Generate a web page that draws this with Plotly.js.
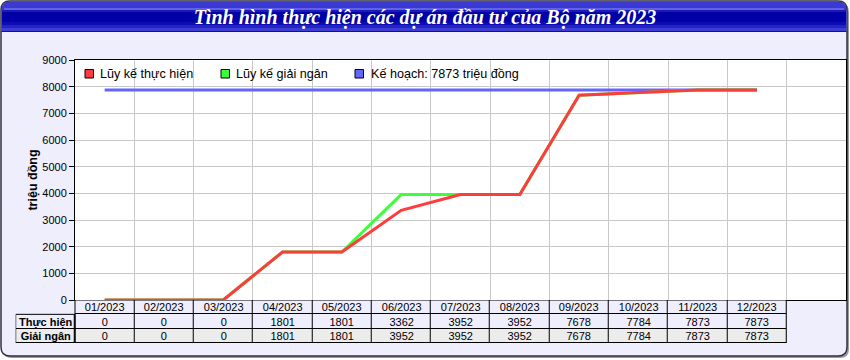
<!DOCTYPE html>
<html>
<head>
<meta charset="utf-8">
<script src="https://cdn.plot.ly/plotly-3.0.1.min.js"></script>
<style>html,body{margin:0;padding:0;background:#fff}#chart{width:850px;height:360px}</style>
</head>
<body>
<div id="chart"></div>
<script>
// ---- data ----
const months = ["01/2023","02/2023","03/2023","04/2023","05/2023","06/2023","07/2023","08/2023","09/2023","10/2023","11/2023","12/2023"];
const thucHien = [0,0,0,1801,1801,3362,3952,3952,7678,7784,7873,7873];
const giaiNgan = [0,0,0,1801,1801,3952,3952,3952,7678,7784,7873,7873];
const keHoach = [7873,7873,7873,7873,7873,7873,7873,7873,7873,7873,7873,7873];
const seriesNames = ["Lũy kế thực hiện","Lũy kế giải ngân","Kế hoạch: 7873 triệu đồng"];
const rowLabels = ["Thực hiện","Giải ngân"];
const chartTitle = "Tình hình thực hiện các dự án đầu tư của Bộ năm 2023";
const yTitle = "triệu đồng";

// ---- layout helpers (pixel -> paper) ----
const W = 850, H = 360;
const X = p => p / W;
const Y = p => 1 - p / H;
function path(cmds){ return cmds.map(c => c[0] + (c.length>1 ? c.slice(1).map((v,i)=> (i%2===0? X(v):Y(v)).toFixed(5)).join(',') : '')).join(' '); }
function roundRect(x0,y0,x1,y1,r){
  return path([["M",x0+r,y0],["L",x1-r,y0],["Q",x1,y0,x1,y0+r],["L",x1,y1-r],["Q",x1,y1,x1-r,y1],["L",x0+r,y1],["Q",x0,y1,x0,y1-r],["L",x0,y0+r],["Q",x0,y0,x0+r,y0],["Z"]]);
}
function topRound(x0,y0,x1,y1,r){
  return path([["M",x0,y1],["L",x0,y0+r],["Q",x0,y0,x0+r,y0],["L",x1-r,y0],["Q",x1,y0,x1,y0+r],["L",x1,y1],["Z"]]);
}
const BG = "#eeeefd";
const ROW2 = "#ececec";
const FONT = "Liberation Sans, Arial";
const shapes = [];
shapes.push({type:"path", xref:"paper", yref:"paper", path: roundRect(3,3,849,358,9), fillcolor:"#9a9aa0", line:{width:0}, layer:"below"});
shapes.push({type:"path", xref:"paper", yref:"paper", path: roundRect(1,1,847,356,9), fillcolor:BG, line:{color:"#303040", width:1.5}, layer:"below"});
shapes.push({type:"path", xref:"paper", yref:"paper", path: topRound(1.5,1.5,846.5,31,9), fillcolor:"#3a3ad2", line:{width:0}, layer:"below"});
const strips = [[4,8,10,"#6262e6"],[2,10,12,"#1a1ab8"],[2,12,22,"#0000a6"],[2,22,25,"#0c0cb2"],[2,25,28,"#2424c4"],[2,28,31,"#3e3ed6"]];
strips.forEach(s => shapes.push({type:"rect", xref:"paper", yref:"paper", x0:X(s[0]), x1:X(848-s[0]), y0:Y(s[1]), y1:Y(s[2]), fillcolor:s[3], line:{width:0}, layer:"below"}));
shapes.push({type:"line", xref:"paper", yref:"paper", x0:X(1.5), x1:X(846.5), y0:Y(31.5), y1:Y(31.5), line:{color:"#1a1a50", width:1}, layer:"below"});
shapes.push({type:"rect", xref:"x domain", yref:"y domain", x0:0, x1:1, y0:0, y1:1, fillcolor:"#ffffff", line:{width:0}, layer:"below"});

const colors = ["#ff3c3c","#3cff3c","#6464ff"];
const traces = [
  {type:"scatter", mode:"lines", name:seriesNames[2], x:months, y:keHoach, line:{color:colors[2], width:3}, showlegend:false, hoverinfo:"skip"},
  {type:"scatter", mode:"lines", name:seriesNames[1], x:months, y:giaiNgan, line:{color:colors[1], width:3}, showlegend:false, hoverinfo:"skip"},
  {type:"scatter", mode:"lines", name:seriesNames[0], x:months, y:thucHien, line:{color:colors[0], width:3}, showlegend:false, hoverinfo:"skip"}
];

// custom legend (key squares + labels)
const legendSq = [85, 221, 355];
const legendTx = [98, 234, 369];
const annotations = [];
seriesNames.forEach((n,i) => {
  shapes.push({type:"rect", xref:"paper", yref:"paper", x0:X(legendSq[i]), x1:X(legendSq[i]+8.5), y0:Y(69.5), y1:Y(78), fillcolor:colors[i], line:{color:"#000", width:1}});
  annotations.push({xref:"paper", yref:"paper", x:X(legendTx[i]), y:Y(74), xanchor:"left", yanchor:"middle", showarrow:false, text:n,
    font:{family:FONT, size:12.6, color:"#000"}});
});

// data table drawn as a heatmap grid (header row + two value rows)
const LABELKEY = "_label";
const tblX = [LABELKEY].concat(months);
const tblY = [0,1,2];
const tblText = [[""].concat(months),
                 ["<b>"+rowLabels[0]+"</b>"].concat(thucHien.map(String)),
                 ["<b>"+rowLabels[1]+"</b>"].concat(giaiNgan.map(String))];
const tblZ = [[null].concat(months.map(()=>0)),
              [0].concat(months.map(()=>0)),
              [1].concat(months.map(()=>1))];
traces.push({type:"heatmap", x:tblX, y:tblY, z:tblZ, text:tblText, texttemplate:"%{text}",
  textfont:{family:FONT, size:11, color:"#000"}, colorscale:[[0,BG],[1,ROW2]], zmin:0, zmax:1, showscale:false,
  xgap:1, ygap:1, xaxis:"x2", yaxis:"y2", hoverinfo:"skip"});
// cell borders: dark backdrop behind the gapped cells + crisp outer frame
[[0.5,12.5,-0.5,2.5],[-0.5,0.5,0.5,2.5]].forEach(r => {
  shapes.push({type:"rect", xref:"x2", yref:"y2", x0:r[0], x1:r[1], y0:r[2], y1:r[3], fillcolor:"#000", line:{width:0}, layer:"below"});
  shapes.push({type:"rect", xref:"x2", yref:"y2", x0:r[0], x1:r[1], y0:r[2], y1:r[3], fillcolor:"rgba(0,0,0,0)", line:{color:"#000", width:1}});
});

const layout = {
  width:W, height:H, margin:{l:0,r:0,t:0,b:0,pad:0},
  paper_bgcolor:"#ffffff", plot_bgcolor:"rgba(0,0,0,0)",
  font:{family:FONT, size:11, color:"#000"},
  title:{text:chartTitle, x:0.5, xanchor:"center", y:Y(17), yanchor:"middle", yref:"paper",
    font:{family:"Liberation Serif, Times New Roman", size:20, color:"#ffffff", style:"italic", weight:"bold"}},
  xaxis:{domain:[X(75), X(846)], type:"category", range:[-0.5, 12.5], tickson:"boundaries", showticklabels:false, ticks:"",
    showgrid:true, gridcolor:"#c8c8c8", gridwidth:1, showline:true, linecolor:"#000", linewidth:1, mirror:true, zeroline:false, fixedrange:true},
  yaxis:{domain:[Y(300), Y(60)], range:[0,9000], dtick:1000, ticks:"outside", ticklen:5, tickcolor:"#000", tickwidth:1,
    showgrid:true, gridcolor:"#c8c8c8", gridwidth:1, showline:true, linecolor:"#000", linewidth:1, mirror:true, zeroline:false,
    tickfont:{family:FONT, size:11, color:"#000"},
    title:{text:yTitle, standoff:1, font:{family:FONT, size:12.5, color:"#000", weight:"bold"}}, fixedrange:true},
  xaxis2:{domain:[X(75-59.31), X(75+59.31*12)], anchor:"y2", type:"category", categoryorder:"array", categoryarray:tblX,
    range:[-0.5, 12.5], showticklabels:false, ticks:"", showgrid:false, zeroline:false, showline:false, fixedrange:true},
  yaxis2:{domain:[Y(343), Y(300)], anchor:"x2", range:[2.5,-0.5], showticklabels:false, ticks:"", showgrid:false, zeroline:false,
    showline:false, fixedrange:true},
  shapes:shapes,
  annotations:annotations,
  showlegend:false
};
Plotly.newPlot("chart", traces, layout, {staticPlot:true, displayModeBar:false});
</script>
</body>
</html>
